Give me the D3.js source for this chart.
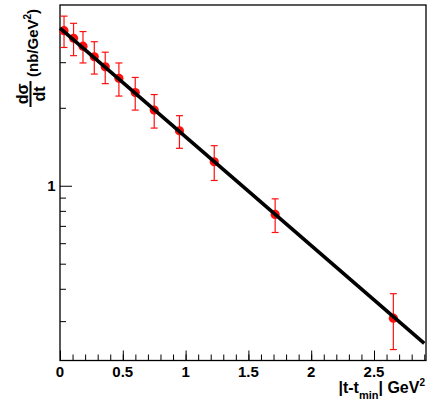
<!DOCTYPE html>
<html>
<head>
<meta charset="utf-8">
<script src="https://cdn.jsdelivr.net/npm/d3@7/dist/d3.min.js"></script>
<style>
    body { margin: 0; background: #fff; }
    svg { display: block; font-family: 'Liberation Sans', Arial, sans-serif; font-weight: bold; }
</style>
</head>
<body>
<svg id="chart"></svg>
<script>
const WIDTH = 434
const HEIGHT = 403

// |t - tmin| (GeV^2) and dsigma/dt (nb/GeV^2)
const tValues = [0.032, 0.108, 0.183, 0.273, 0.360, 0.469, 0.599, 0.750, 0.951, 1.228, 1.713, 2.654]
const xsValues = [3.97, 3.71, 3.46, 3.15, 2.88, 2.60, 2.29, 1.96, 1.63, 1.238, 0.775, 0.308]
const xsErrors = [0.55, 0.53, 0.48, 0.45, 0.40, 0.38, 0.33, 0.29, 0.235, 0.19, 0.115, 0.075]

// exponential fit, straight in log scale: end points
const fitT = [0, 2.9]
const fitXs = [4.06, 0.246]

const xMajorTicks = [0, 0.5, 1, 1.5, 2, 2.5]
const xTickLabels = ['0', '0.5', '1', '1.5', '2', '2.5']
const xMinorTicks = d3.range(0, 29.5).map(i => i / 10)
const yMajorTicks = [1]
const yTickLabels = ['1']
const yMinorTicks = [0.3, 0.4, 0.5, 0.6, 0.7, 0.8, 0.9, 2, 3, 4]

const X_DOMAIN = [0, 2.914]
const Y_DOMAIN = [0.2114, 4.99]

const frame = { left: 60, right: 426, top: 5, bottom: 360.5 }
const RED = '#ff1010'

const svg = d3.select('#chart')
    .attr('width', WIDTH)
    .attr('height', HEIGHT)
    .attr('viewBox', `0 0 ${WIDTH} ${HEIGHT}`)

const x = d3.scaleLinear().domain(X_DOMAIN).range([frame.left, frame.right])
const y = d3.scaleLog().domain(Y_DOMAIN).range([frame.bottom, frame.top])

// x axis, ticks pointing inward
const xMinor = d3.axisTop(x).tickValues(xMinorTicks).tickSize(6).tickFormat('')
const xMajor = d3.axisTop(x).tickValues(xMajorTicks).tickSize(10).tickFormat('')

svg.append('g').attr('transform', `translate(0,${frame.bottom})`).call(xMinor)
svg.append('g').attr('transform', `translate(0,${frame.bottom})`).call(xMajor)

svg.selectAll('.x-label')
    .data(xMajorTicks)
    .join('text')
    .attr('class', 'x-label')
    .attr('x', d => x(d))
    .attr('y', 376.5)
    .attr('text-anchor', 'middle')
    .attr('font-size', 15)
    .text((d, i) => xTickLabels[i])

// y axis, ticks pointing inward
const yMinor = d3.axisRight(y).tickValues(yMinorTicks).tickSize(6).tickFormat('')
const yMajor = d3.axisRight(y).tickValues(yMajorTicks).tickSize(12).tickFormat('')

svg.append('g').attr('transform', `translate(${frame.left},0)`).call(yMinor)
svg.append('g').attr('transform', `translate(${frame.left},0)`).call(yMajor)

svg.selectAll('.y-label')
    .data(yMajorTicks)
    .join('text')
    .attr('class', 'y-label')
    .attr('x', 55.5)
    .attr('y', d => y(d))
    .attr('dy', '0.36em')
    .attr('text-anchor', 'end')
    .attr('font-size', 15)
    .text((d, i) => yTickLabels[i])

svg.selectAll('.domain').remove()
svg.selectAll('.tick line').attr('stroke', '#000').attr('stroke-width', 1)

// frame
svg.append('rect')
    .attr('x', frame.left)
    .attr('y', frame.top)
    .attr('width', frame.right - frame.left)
    .attr('height', frame.bottom - frame.top)
    .attr('fill', 'none')
    .attr('stroke', '#000')
    .attr('stroke-width', 1.3)

// data points with error bars
const points = tValues.map((t, i) => ({ t, v: xsValues[i], e: xsErrors[i] }))

const bars = svg.append('g').attr('stroke', RED).attr('stroke-width', 1.2)
bars.selectAll('.err')
    .data(points)
    .join('line')
    .attr('x1', d => x(d.t))
    .attr('x2', d => x(d.t))
    .attr('y1', d => y(d.v + d.e))
    .attr('y2', d => y(d.v - d.e))
bars.selectAll('.cap-top')
    .data(points)
    .join('line')
    .attr('class', 'cap-top')
    .attr('x1', d => x(d.t) - 3.5)
    .attr('x2', d => x(d.t) + 3.5)
    .attr('y1', d => y(d.v + d.e))
    .attr('y2', d => y(d.v + d.e))
bars.selectAll('.cap-bottom')
    .data(points)
    .join('line')
    .attr('class', 'cap-bottom')
    .attr('x1', d => x(d.t) - 3.5)
    .attr('x2', d => x(d.t) + 3.5)
    .attr('y1', d => y(d.v - d.e))
    .attr('y2', d => y(d.v - d.e))

svg.append('g')
    .selectAll('circle')
    .data(points)
    .join('circle')
    .attr('cx', d => x(d.t))
    .attr('cy', d => y(d.v))
    .attr('r', 4.6)
    .attr('fill', RED)

// fit line
const fitLine = d3.line()
    .x(d => x(d[0]))
    .y(d => y(d[1]))

svg.append('path')
    .datum(fitT.map((t, i) => [t, fitXs[i]]))
    .attr('d', fitLine)
    .attr('fill', 'none')
    .attr('stroke', '#000')
    .attr('stroke-width', 3.6)

// x axis title
const xTitle = svg.append('text')
    .attr('x', 425)
    .attr('y', 393)
    .attr('text-anchor', 'end')
    .attr('font-size', 16)
xTitle.append('tspan').text('|t-t')
xTitle.append('tspan').attr('font-size', 11).attr('dy', 6).text('min')
xTitle.append('tspan').attr('dy', -6).text('| GeV')
xTitle.append('tspan').attr('font-size', 10).attr('dy', -7).text('2')

// y axis title: d sigma / dt (nb/GeV^2), rotated
const yTitle = svg.append('g').attr('transform', 'rotate(-90)')
yTitle.append('text')
    .attr('x', -94)
    .attr('y', 28)
    .attr('text-anchor', 'middle')
    .attr('font-size', 16)
    .text('dσ')
yTitle.append('line')
    .attr('x1', -81)
    .attr('x2', -107)
    .attr('y1', 30.5)
    .attr('y2', 30.5)
    .attr('stroke', '#000')
    .attr('stroke-width', 2)
yTitle.append('text')
    .attr('x', -94)
    .attr('y', 44.5)
    .attr('text-anchor', 'middle')
    .attr('font-size', 16)
    .text('dt')
const unit = yTitle.append('text')
    .attr('x', -77)
    .attr('y', 37.5)
    .attr('font-size', 15)
unit.append('tspan').text('(nb/GeV')
unit.append('tspan').attr('font-size', 10).attr('dy', -7).text('2')
unit.append('tspan').attr('dy', 7).text(')')
</script>
</body>
</html>
